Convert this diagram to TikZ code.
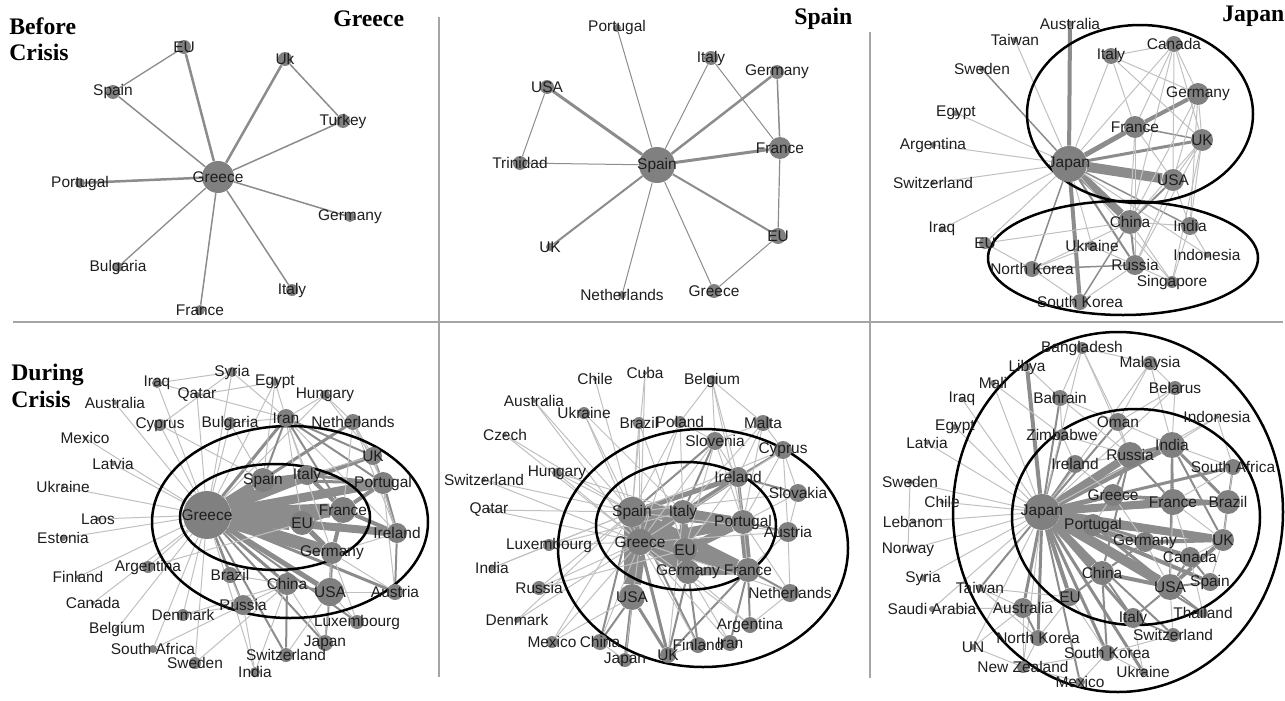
\documentclass[tikz,border=0pt]{standalone}
\usepackage{fontspec}
\setmainfont{Liberation Serif}
\setsansfont{Liberation Sans}
\usepackage{tikz}
\usetikzlibrary{backgrounds}
\definecolor{nodegray}{RGB}{128,128,128}
\definecolor{edgegray}{RGB}{140,140,140}
\definecolor{faintgray}{RGB}{192,192,192}
\definecolor{rulegray}{RGB}{165,165,165}
\definecolor{txt}{RGB}{30,30,30}
\tikzset{
    cty/.style={circle, fill=nodegray, inner sep=0pt, minimum size=#1*0.04cm},
    lbl/.style={font=\sffamily\fontsize{8.8}{10}\selectfont, text=txt, inner sep=0pt},
    lnk/.style={draw=edgegray, line width=#1*0.02cm},
    faint/.style={draw=faintgray, line width=0.02cm},
    grp/.style={draw=black, line width=0.05cm},
    rule/.style={draw=rulegray, line width=0.03cm},
    ttl/.style={font=\bfseries\fontsize{13.5}{15}\selectfont, inner sep=0pt, align=left}
}

\begin{document}
\begin{tikzpicture}[x=0.02cm, y=-0.02cm]
    \useasboundingbox (0,0) rectangle (1285,700);

    % Frame
    \begin{pgfonlayer}{background}
        \coordinate (hl) at (13,322);
        \coordinate (hr) at (1283,322);
        \coordinate (v1t) at (439,17);
        \coordinate (v1b) at (439,677);
        \coordinate (v2t) at (870,32);
        \coordinate (v2b) at (870,678);
        \draw[rule] (hl) -- (hr);
        \draw[rule] (v1t) -- (v1b);
        \draw[rule] (v2t) -- (v2b);
    \end{pgfonlayer}

    % Titles
    \node[ttl, anchor=north west] (before) at (9,17) {Before\\Crisis};
    \node[ttl, anchor=north west] (during) at (11,364) {During\\Crisis};
    \node[ttl, anchor=base west] (tGR) at (333,26) {Greece};
    \node[ttl, anchor=base west] (tES) at (794,24) {Spain};
    \node[ttl, anchor=base west] (tJP) at (1222,21) {Japan};

    % Before crisis: Greece
    \foreach \n/\x/\y/\r/\t in {GR/218/177/16/Greece, EU/184/47/7/EU, UK/285/59/7/Uk,
        SP/113/92/7/Spain, TR/343/121/7/Turkey, PT/80/183/5/Portugal, DE/350/217/5/Germany,
        BG/118/267/5/Bulgaria, FR/200/310/5/France, IT/292/290/6/Italy}
        \node[cty=\r, label={[lbl]center:\t}] (a\n) at (\x,\y) {};
    \begin{pgfonlayer}{background}
        \foreach \v/\w in {EU/2.5, UK/2.5, SP/1.5, TR/1.5, PT/2.5, DE/1.5, BG/1.3, FR/1.5, IT/1.5}
            \draw[lnk=\w] (aGR) -- (a\v);
        \draw[lnk=1.3] (aEU) -- (aSP);
        \draw[lnk=1.5] (aUK) -- (aTR);
    \end{pgfonlayer}

    % Before crisis: Spain
    \foreach \n/\x/\y/\r/\t in {ES/657/165/18/Spain, PT/617/28/4/Portugal, IT/711/58/7/Italy,
        DE/777/72/7/Germany, US/547/87/7/USA, TT/520/163/7/Trinidad, FR/780/148/11/France,
        UK/550/247/4/UK, EU/778/236/8/EU, NL/622/295/4/Netherlands, GR/714/291/7/Greece}
        \node[cty=\r, label={[lbl]center:\t}] (b\n) at (\x,\y) {};
    \begin{pgfonlayer}{background}
        \foreach \v/\w in {PT/1, IT/1, DE/2.5, US/3, TT/1, FR/3, UK/2, EU/2, NL/1, GR/1}
            \draw[lnk=\w] (bES) -- (b\v);
        \foreach \u/\v/\w in {US/TT/1, IT/FR/1, DE/FR/1.5, FR/EU/1.2, EU/GR/1}
            \draw[lnk=\w] (b\u) -- (b\v);
    \end{pgfonlayer}

    % Before crisis: Japan
    \draw[grp] (1140,114) ellipse (113 and 89);
    \draw[grp] (1123,258) ellipse (135 and 57);
    \foreach \n/\x/\y/\r/\t in {JP/1069/164/18/Japan, AU/1070/24/3/Australia, TW/1015/40/3/Taiwan,
        SE/982/69/3/Sweden, EG/956/113/3/Egypt, AR/933/145/3/Argentina, CH/933/183/2/Switzerland,
        IQ/942/229/3/Iraq, EU/985/243/6/EU, IT/1111/56/8/Italy, CA/1174/44/8/Canada,
        DE/1198/94/11/Germany, FR/1135/127/11/France, UK/1202/140/11/UK, US/1173/180/11/USA,
        CN/1130/222/12/China, IN/1190/226/9/India, UA/1092/246/5/Ukraine, ID/1207/255/3/Indonesia,
        KP/1032/269/8/North Korea, RU/1135/265/10/Russia, SG/1172/282/6/Singapore,
        KR/1080/302/8/South Korea}
        \node[cty=\r, label={[lbl]center:\t}] (c\n) at (\x,\y) {};
    \begin{pgfonlayer}{background}
        \foreach \v/\w in {AU/4, SE/1.5, DE/1.5, FR/5, UK/3, US/10, CN/8, IN/1.5, KP/1.5, RU/2, KR/4}
            \draw[lnk=\w] (cJP) -- (c\v);
        \foreach \v in {TW, EG, AR, CH, IQ, EU, IT, CA, UA, SG, ID}
            \draw[faint] (cJP) -- (c\v);
        \foreach \u/\v/\w in {DE/FR/4, US/CN/2, CN/RU/2, CN/KR/1.5, KP/RU/1.5, FR/UK/1.5}
            \draw[lnk=\w] (c\u) -- (c\v);
        \foreach \u/\v in {IT/CA, IT/DE, IT/UK, IT/FR, CA/DE, CA/UK, CA/FR, CA/US, CA/CN, DE/UK,
            DE/US, DE/CN, FR/US, FR/CN, FR/RU, UK/US, UK/CN, UK/IN, UK/SG, US/IN, US/RU, CN/IN,
            CN/KP, CN/EU, KP/KR, RU/KR, RU/SG, IN/ID, IN/SG, UA/RU, UA/KP, DE/IN, UK/RU, CN/SG,
            EU/KP}
            \draw[faint] (c\u) -- (c\v);
    \end{pgfonlayer}

    % During crisis: Greece
    \draw[grp] (290,522) ellipse (138 and 96);
    \draw[grp] (275,517) ellipse (95 and 53);
    \foreach \n/\x/\y/\r/\t in {GR/207/515/24/Greece, IQ/157/383/5/Iraq, QA/197/395/3/Qatar,
        SY/232/372/5/Syria, EG/275/382/4/Egypt, HU/325/395/5/Hungary, AU/115/403/2/Australia,
        CY/160/425/6/Cyprus, BG/230/423/6/Bulgaria, IR/286/418/9/Iran, NL/353/422/8/Netherlands,
        MX/85/438/2/Mexico, LV/113/464/2/Latvia, UK/373/456/9/UK, ES/263/480/12/Spain,
        IT/307/475/10/Italy, PT/383/483/11/Portugal, UA/63/487/2/Ukraine, FR/343/510/13/France,
        EU/302/523/12/EU, IE/397/533/10/Ireland, LA/98/519/2/Laos, EE/63/538/3/Estonia,
        DE/332/553/11/Germany, AR/148/567/6/Argentina, FI/78/577/2/Finland, BR/230/575/8/Brazil,
        CN/287/584/11/China, US/330/592/14/USA, AT/395/592/8/Austria, CA/93/603/2/Canada,
        RU/243/605/10/Russia, DK/183/615/6/Denmark, LU/357/622/7/Luxembourg, BE/117/629/2/Belgium,
        JP/325/643/8/Japan, ZA/153/649/4/South Africa, CH/286/655/7/Switzerland,
        SE/195/663/6/Sweden, IN/255/672/5/India}
        \node[cty=\r, label={[lbl]center:\t}] (d\n) at (\x,\y) {};
    \begin{pgfonlayer}{background}
        \foreach \v/\w in {EU/16, FR/14, DE/13, IT/11, ES/10, PT/9, IE/8, US/5, UK/4, IR/3, CN/3,
            NL/3, AT/3, LU/2, JP/2, RU/2, CH/2, BR/2}
            \draw[lnk=\w] (dGR) -- (d\v);
        \foreach \v in {IQ, QA, SY, EG, HU, AU, CY, BG, MX, LV, UA, LA, EE, AR, FI, CA, DK, BE,
            ZA, SE, IN}
            \draw[faint] (dGR) -- (d\v);
        \foreach \u/\v/\w in {IR/UK/2, PT/IE/3, UK/PT/2, IR/PT/2, DE/US/3, US/JP/2, US/CN/2,
            CN/CH/2, IE/AT/2, ES/IT/4, IT/FR/4, FR/EU/4, EU/DE/5, FR/IE/4, FR/PT/4, DE/FR/4,
            PT/IT/3, ES/PT/3, IR/ES/2, IR/FR/2}
            \draw[lnk=\w] (d\u) -- (d\v);
        \foreach \u/\v in {IR/IE, IR/DE, IR/IT, IR/EU, UK/IE, PT/AT, IE/DE, DE/AT, US/AT, US/LU,
            CN/JP, CN/RU, BR/RU, RU/IN, NL/UK, NL/PT, NL/IE, HU/NL, EG/IR, SY/IR, IQ/SY, QA/EG,
            SY/CY, CY/ES, BG/IR, HU/IR, EG/ES, DK/CN, SE/CN, ZA/RU, CH/US, LU/DE, JP/DE, IN/CN,
            BR/CN, AR/EU, HU/UK, NL/FR, UK/IT, IQ/IR, BG/ES, DK/RU}
            \draw[faint] (d\u) -- (d\v);
    \end{pgfonlayer}

    % During crisis: Spain
    \draw[grp] (703,548) ellipse (145 and 119);
    \draw[grp] (686,526) ellipse (90 and 64);
    \foreach \n/\x/\y/\r/\t in {CL/595/379/2/Chile, CU/645/373/2/Cuba, BE/712/380/5/Belgium,
        AU/534/401/2/Australia, UA/584/413/6/Ukraine, BR/639/423/6/Brazil, PL/680/422/6/Poland,
        MT/763/423/8/Malta, CZ/505/435/2/Czech, SI/715/441/9/Slovenia, CY/783/450/9/Cyprus,
        IE/738/477/10/Ireland, CH/484/480/2/Switzerland, HU/557/473/5/Hungary,
        SK/798/493/9/Slovakia, QA/489/510/2/Qatar, ES/632/512/15/Spain, IT/683/512/12/Italy,
        PT/743/522/12/Portugal, AT/788/532/10/Austria, LU/549/545/6/Luxembourg,
        GR/640/542/13/Greece, EU/685/550/12/EU, IN/492/568/3/India, DE/688/572/12/Germany,
        FR/748/570/12/France, RU/539/588/7/Russia, US/632/597/13/USA, NL/790/593/9/Netherlands,
        DK/517/620/3/Denmark, AR/750/625/8/Argentina, MX/552/642/6/Mexico, CN/600/642/8/China,
        FI/698/645/8/Finland, IR/730/643/8/Iran, JP/625/660/7/Japan, UK/668/655/8/UK}
        \node[cty=\r, label={[lbl]center:\t}] (e\n) at (\x,\y) {};
    \begin{pgfonlayer}{background}
        \foreach \u/\v/\w in {ES/GR/20, ES/IT/12, ES/EU/12, ES/DE/12, ES/FR/10, ES/PT/10, ES/US/16,
            GR/IT/10, GR/EU/12, GR/DE/12, GR/FR/10, GR/PT/10, GR/US/14, IT/EU/8, IT/PT/8, IT/DE/6,
            EU/DE/8, EU/FR/8, EU/PT/8, DE/FR/8, PT/FR/8, IE/ES/5, IE/GR/5, IE/IT/4, IE/PT/3,
            UK/ES/3, UK/US/3, UK/GR/2, UK/DE/2, JP/US/3, CN/US/2, CN/ES/2, FI/DE/2, FI/ES/2,
            IR/FR/2, AR/FR/2, NL/FR/2, AT/PT/2, SK/IE/2, CY/IE/2, SI/IT/2, SI/ES/2, UK/FR/2}
            \draw[lnk=\w] (e\u) -- (e\v);
        \foreach \u/\v in {CL/ES, CU/ES, CU/GR, BE/SI, BE/PL, BE/MT, BE/IE, BE/PT, AU/ES, AU/GR,
            UA/ES, UA/GR, UA/IT, BR/ES, BR/GR, BR/EU, PL/IT, PL/SI, PL/ES, PL/GR, MT/CY, MT/SI,
            MT/IE, MT/PT, MT/IT, CZ/ES, CZ/GR, SI/PT, SI/GR, SI/EU, CY/PT, CY/SK, CY/AT, CY/GR,
            CY/ES, CH/ES, CH/GR, HU/ES, HU/GR, HU/IT, SK/PT, SK/AT, SK/ES, QA/ES, QA/GR, LU/ES,
            LU/GR, LU/IT, IN/ES, IN/LU, RU/ES, RU/GR, RU/EU, DK/ES, DK/GR, NL/AT, NL/PT, NL/GR,
            AR/NL, AR/GR, AR/DE, MX/US, MX/ES, MX/GR, CN/GR, CN/JP, FI/GR, FI/UK, IR/GR, IR/DE,
            JP/GR, UK/IT, AT/GR, AT/ES, AT/FR, IE/SI, IE/EU, IE/FR}
            \draw[faint] (e\u) -- (e\v);
    \end{pgfonlayer}

    % During crisis: Japan
    \draw[grp] (1118,512) ellipse (165 and 180);
    \draw[grp] (1136,517) ellipse (124 and 108);
    \foreach \n/\x/\y/\r/\t in {BD/1082/348/6/Bangladesh, MY/1150/363/7/Malaysia,
        LY/1027/367/4/Libya, ML/993/383/3/Mali, BY/1175/388/7/Belarus, BH/1060/398/8/Bahrain,
        IQ/962/399/2/Iraq, ID/1217/417/2/Indonesia, EG/955/427/3/Egypt, OM/1118/422/9/Oman,
        ZW/1062/435/6/Zimbabwe, LV/927/443/2/Latvia, IN/1172/445/13/India, RU/1130/455/13/Russia,
        IE/1075/464/9/Ireland, ZA/1233/467/8/South Africa, SE/910/482/3/Sweden, CL/942/502/2/Chile,
        JP/1042/512/18/Japan, GR/1113/495/11/Greece, FR/1173/502/13/France, BR/1228/502/12/Brazil,
        LB/913/522/2/Lebanon, PT/1093/525/11/Portugal, DE/1145/542/10/Germany, UK/1223/540/11/UK,
        CA/1190/557/10/Canada, NO/908/550/2/Norway, CN/1102/573/12/China, US/1170/587/13/USA,
        ES/1210/582/9/Spain, SY/923/578/3/Syria, TW/980/588/4/Taiwan, EU/1070/597/9/EU,
        SA/932/609/3/Saudi Arabia, AU/1023/608/10/Australia, TH/1203/613/5/Thailand,
        IT/1133/618/10/Italy, CH/1173/635/7/Switzerland, KP/1038/638/8/North Korea,
        UN/973/647/3/UN, KR/1107/653/8/South Korea, NZ/1023/667/6/New Zealand,
        UA/1143/672/4/Ukraine, MX/1080/682/5/Mexico}
        \node[cty=\r, label={[lbl]center:\t}] (f\n) at (\x,\y) {};
    \begin{pgfonlayer}{background}
        \foreach \v/\w in {RU/8, GR/5, FR/8, PT/6, DE/8, UK/8, US/10, CN/8, CA/5, IN/6, BR/4,
            ZA/3, ES/4, EU/4, IT/3, KR/3, KP/3, AU/3, LY/4, TW/2, UA/3, MX/2, CH/2, IE/3, TH/2,
            ZW/2, OM/2, BH/2}
            \draw[lnk=\w] (fJP) -- (f\v);
        \foreach \v in {BD, MY, ML, BY, IQ, ID, EG, LV, SE, CL, LB, NO, SY, SA, UN, NZ}
            \draw[faint] (fJP) -- (f\v);
        \foreach \u/\v/\w in {RU/IN/4, RU/GR/2, IN/BR/3, IN/FR/2, IN/UK/2, IN/US/2, FR/BR/4,
            BR/UK/2, UK/US/4, US/CA/2, US/ES/2, CN/US/4, CN/DE/2, DE/UK/4, PT/UK/3, GR/BR/2,
            RU/FR/2, CA/ES/2, RU/CN/2, CN/IT/2, US/IT/2, AU/KP/2, EU/CN/2, CN/KR/2, PT/US/3,
            GR/FR/2, DE/CA/2, ZA/BR/2, US/TH/1.5, IT/CH/1.5}
            \draw[lnk=\w] (f\u) -- (f\v);
        \foreach \u/\v in {BD/MY, BD/BH, BD/OM, BD/RU, MY/BY, MY/OM, MY/IN, BY/IN, BY/OM, OM/IN,
            OM/RU, BH/OM, BH/RU, BH/ZW, SE/NO, ID/IN, ID/ZA, ZW/RU, ZW/IE, IE/RU, IE/GR, ZA/IN,
            ZA/UK, ZA/FR, FR/UK, FR/CA, FR/US, GR/PT, GR/DE, PT/DE, DE/US, CA/UK, ES/UK, TH/CA,
            CH/US, CH/KR, KR/UA, KR/MX, KR/NZ, KP/NZ, KP/EU, AU/NZ, AU/TW, TW/EU, TW/KP, UN/NZ,
            UN/AU, SA/AU, MX/NZ, UA/IT, EU/KR, EU/AU, LY/BH, ML/ZW}
            \draw[faint] (f\u) -- (f\v);
    \end{pgfonlayer}

\end{tikzpicture}
\end{document}
